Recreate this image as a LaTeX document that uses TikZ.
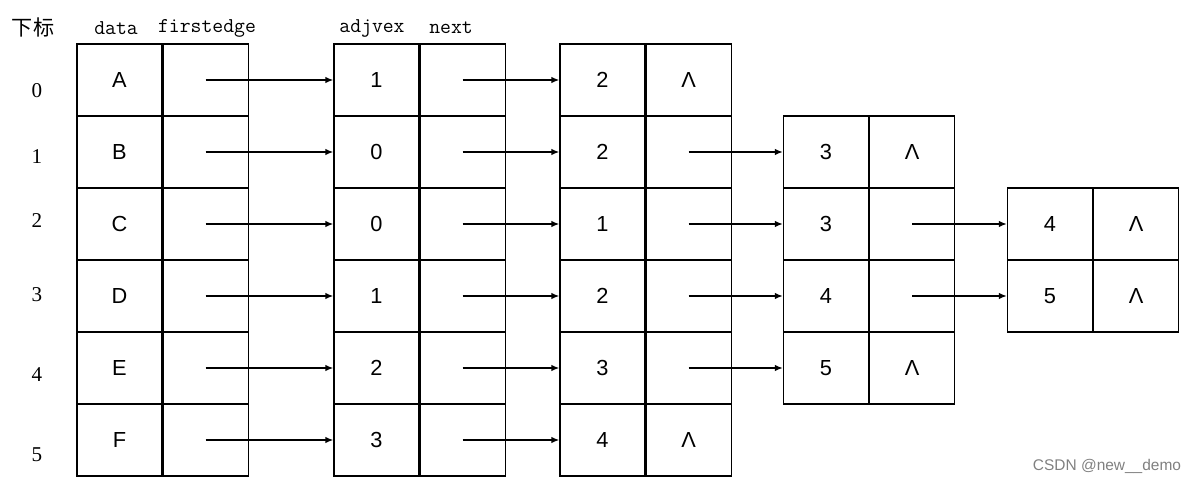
\documentclass[tikz,border=0pt]{standalone}
\usepackage{fontspec}
\newfontfamily\cellfont{Liberation Sans}
\newfontfamily\idxfont{Liberation Serif}
\newfontfamily\cjkfont{Noto Sans CJK SC}
\usetikzlibrary{positioning}
\usetikzlibrary{arrows.meta}

\tikzset{
  cell/.style={draw, line width=0.75pt, minimum width=2.125cm, minimum height=1.8cm,
    inner sep=0pt, font=\cellfont\fontsize{15.5}{18}\selectfont},
  link/.style={-{Latex[length=2mm,width=1.6mm]}, line width=1.3pt},
  head/.style={font=\ttfamily\fontsize{15}{17}\selectfont},
  idx/.style={font=\idxfont\fontsize{15}{18}\selectfont},
}

\begin{document}
\begin{tikzpicture}[x=0.025cm, y=-0.025cm]
    \useasboundingbox (0,0) rectangle (1199,491);

    % column headers
    \node[font=\cjkfont\fontsize{15}{18}\selectfont] (hidx) at (33,27) {下标};
    \node[head] (hdata) at (116,28) {data};
    \node[head] (hfirst) at (207,28) {firstedge};
    \node[head] (hadj) at (372,28) {adjvex};
    \node[head] (hnext) at (451,28) {next};

    % index numbers
    \foreach \y [count=\i from 0] in {91,157,221,295,375,455}
        \node[idx] (idx\i) at (37,\y) {\i};

    % vertex table
    \foreach \v [count=\i from 0] in {A,B,C,D,E,F} {
        \node[cell] (vd\i) at (119.5,80+72*\i) {\v};
        \node[cell, right=0pt of vd\i] (fe\i) {};
    }

    % first edge nodes
    \foreach \a [count=\i from 0] in {1,0,0,1,2,3} {
        \node[cell] (pa\i) at (376.5,80+72*\i) {\a};
        \node[cell, right=0pt of pa\i] (pn\i) {};
    }

    % second edge nodes
    \foreach \a/\n [count=\i from 0] in {2/Λ,2/,1/,2/,3/,4/Λ} {
        \node[cell] (qa\i) at (602.5,80+72*\i) {\a};
        \node[cell, right=0pt of qa\i] (qn\i) {\n};
    }

    % third edge nodes
    \foreach \a/\n [count=\i from 1] in {3/Λ,3/,4/,5/Λ} {
        \node[cell] (ra\i) at (826,80+72*\i) {\a};
        \node[cell, right=0pt of ra\i] (rn\i) {\n};
    }

    % fourth edge nodes
    \foreach \a [count=\i from 2] in {4,5} {
        \node[cell] (sa\i) at (1050,80+72*\i) {\a};
        \node[cell, right=0pt of sa\i] (sn\i) {Λ};
    }

    % links
    \foreach \i in {0,...,5} {
        \draw[link] (fe\i.center) -- (pa\i.west);
        \draw[link] (pn\i.center) -- (qa\i.west);
    }
    \foreach \i in {1,...,4}
        \draw[link] (qn\i.center) -- (ra\i.west);
    \foreach \i in {2,3}
        \draw[link] (rn\i.center) -- (sa\i.west);

    \node[font=\cellfont\fontsize{11}{13}\selectfont, text=gray] (mark) at (1107,466) {CSDN @new\_\_demo};
\end{tikzpicture}
\end{document}
